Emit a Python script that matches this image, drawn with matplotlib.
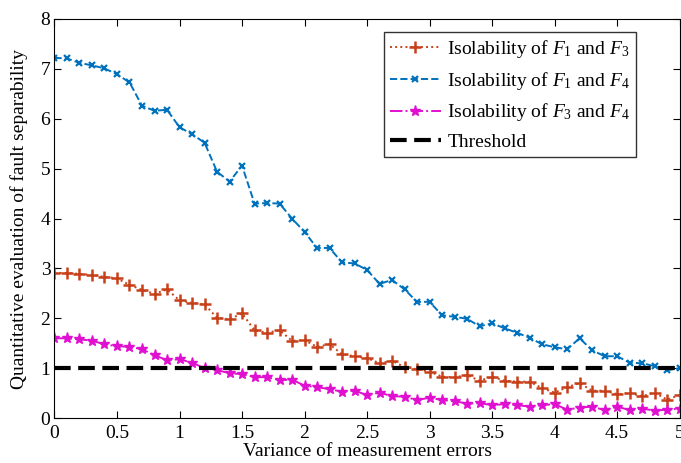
import numpy as np
import matplotlib
matplotlib.use("Agg")
import matplotlib.pyplot as plt

plt.rcParams['font.family'] = ['Liberation Serif', 'DejaVu Serif']
plt.rcParams['mathtext.fontset'] = 'custom'
plt.rcParams['mathtext.it'] = 'Liberation Serif:italic'
plt.rcParams['mathtext.rm'] = 'Liberation Serif'

# variance of measurement errors, 0:0.1:5
variance = np.round(np.arange(0, 5.01, 0.1), 1)

iso_f1_f3 = [2.91, 2.91, 2.89, 2.87, 2.83, 2.80, 2.67, 2.57, 2.49, 2.58,
             2.36, 2.31, 2.28, 2.01, 1.98, 2.10, 1.76, 1.71, 1.76, 1.55,
             1.56, 1.43, 1.48, 1.28, 1.24, 1.20, 1.10, 1.15, 1.02, 0.98,
             0.93, 0.83, 0.82, 0.86, 0.75, 0.83, 0.75, 0.73, 0.73, 0.60,
             0.51, 0.62, 0.70, 0.55, 0.55, 0.48, 0.50, 0.44, 0.51, 0.37,
             0.46]

iso_f1_f4 = [7.22, 7.21, 7.12, 7.07, 7.01, 6.89, 6.73, 6.26, 6.16, 6.18,
             5.83, 5.69, 5.52, 4.94, 4.74, 5.06, 4.30, 4.31, 4.30, 4.00,
             3.73, 3.41, 3.41, 3.12, 3.10, 2.97, 2.69, 2.77, 2.58, 2.33,
             2.33, 2.06, 2.03, 1.99, 1.84, 1.90, 1.80, 1.71, 1.61, 1.48,
             1.42, 1.38, 1.60, 1.36, 1.24, 1.24, 1.11, 1.10, 1.04, 0.96,
             1.00]

iso_f3_f4 = [1.60, 1.60, 1.58, 1.55, 1.48, 1.44, 1.43, 1.38, 1.26, 1.16,
             1.18, 1.11, 1.00, 0.96, 0.90, 0.88, 0.82, 0.82, 0.76, 0.77,
             0.65, 0.62, 0.58, 0.53, 0.55, 0.46, 0.51, 0.44, 0.43, 0.36,
             0.41, 0.36, 0.34, 0.29, 0.30, 0.26, 0.28, 0.26, 0.23, 0.26,
             0.28, 0.17, 0.21, 0.23, 0.16, 0.23, 0.16, 0.19, 0.15, 0.17,
             0.19]

threshold = 1.0

fig = plt.figure(figsize=(6.81, 4.63), dpi=100)
ax = fig.add_axes([0.080, 0.097, 0.918, 0.862])

ax.plot(variance, iso_f1_f3, linestyle=':', color='#C8401A', marker='+',
        markersize=8, markeredgewidth=1.8, linewidth=1.4,
        label=r'Isolability of $F_1$ and $F_3$')
ax.plot(variance, iso_f1_f4, linestyle='--', color='#0072BD', marker='x',
        markersize=4, markeredgewidth=1.6, linewidth=1.4,
        label=r'Isolability of $F_1$ and $F_4$')
ax.plot(variance, iso_f3_f4, linestyle='-.', color='#E010D0', marker='*',
        markersize=8, markeredgewidth=1.0, linewidth=1.4,
        label=r'Isolability of $F_3$ and $F_4$')
ax.axhline(threshold, color='black', linestyle=(0, (4, 1.8)), linewidth=3,
           label='Threshold')

ax.set_xlim(0, 5)
ax.set_ylim(0, 8)
ax.set_xticks(np.arange(0, 5.01, 0.5))
ax.set_xticklabels(['0', '0.5', '1', '1.5', '2', '2.5', '3', '3.5', '4', '4.5', '5'])
ax.set_yticks(range(0, 9))
ax.tick_params(direction='in', top=True, right=True, labelsize=14, length=5)
ax.tick_params(axis='x', pad=5)
ax.tick_params(axis='y', pad=3)
ax.set_xlabel('Variance of measurement errors', fontsize=14, labelpad=1)
ax.set_ylabel('Quantitative evaluation of fault separability', fontsize=14, labelpad=9)

leg = ax.legend(loc='upper right', bbox_to_anchor=(0.93, 0.967), fontsize=14,
                frameon=True, fancybox=False, edgecolor='black',
                handlelength=2.6, handletextpad=0.35, borderpad=0.3,
                labelspacing=0.5, borderaxespad=0)
leg.get_frame().set_linewidth(1.0)

fig.savefig('out.png', dpi=100)
